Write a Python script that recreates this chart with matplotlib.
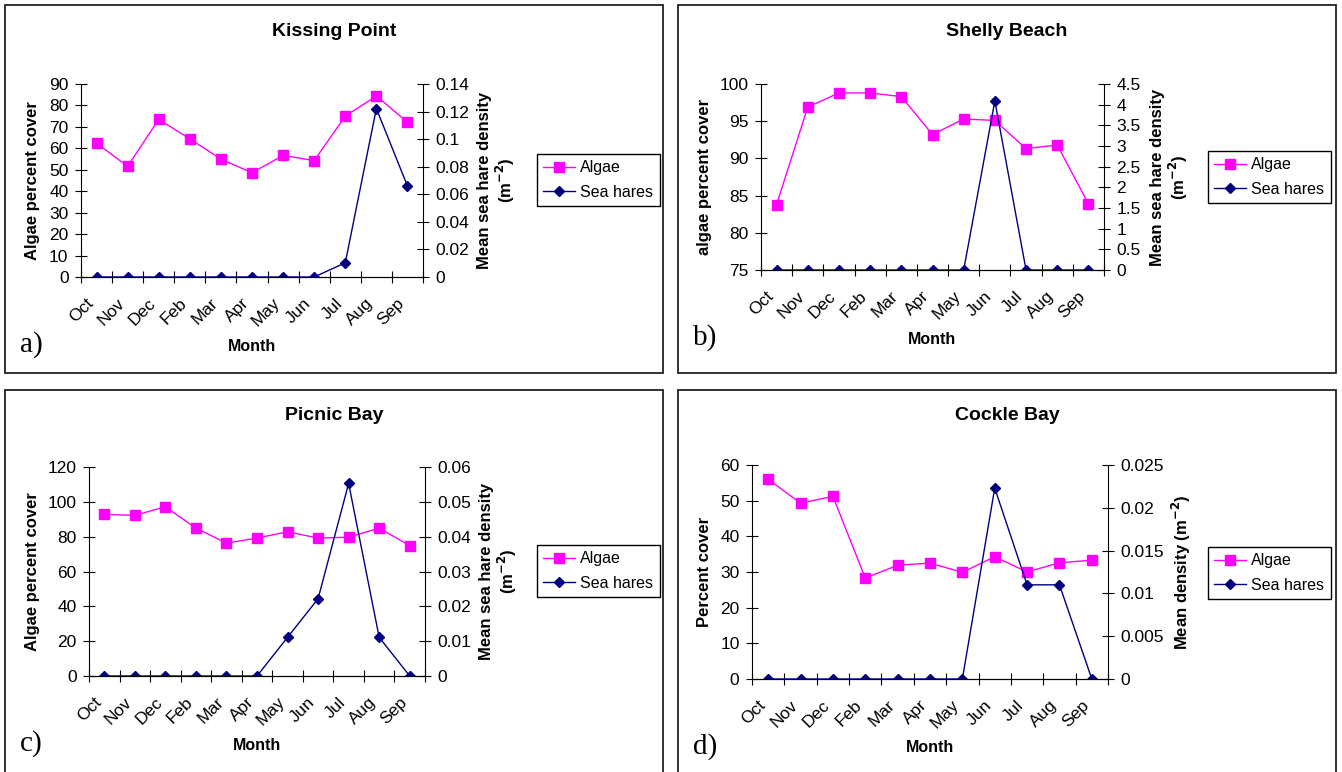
import numpy as np
import matplotlib.pyplot as plt
from matplotlib.patches import Rectangle
from matplotlib.ticker import FuncFormatter, MultipleLocator

plt.rcParams['font.family'] = ['Liberation Sans', 'DejaVu Sans']

W, H = 1342, 772

months = ['Oct', 'Nov', 'Dec', 'Feb', 'Mar', 'Apr', 'May', 'Jun', 'Jul', 'Aug', 'Sep']

# Kissing Point
kp_algae = [62.4, 51.6, 73.5, 64.4, 55.0, 48.6, 56.7, 54.3, 75.0, 84.4, 72.2]
kp_hares = [0, 0, 0, 0, 0, 0, 0, 0, 0.0103, 0.1222, 0.066]
# Shelly Beach
sb_algae = [83.8, 96.9, 98.8, 98.8, 98.3, 93.2, 95.3, 95.1, 91.3, 91.8, 83.9]
sb_hares = [0, 0, 0, 0, 0, 0, 0, 4.09, 0, 0, 0]
# Picnic Bay
pb_algae = [92.8, 92.2, 97.2, 84.9, 76.3, 79.2, 82.8, 79.2, 79.7, 84.9, 74.9]
pb_hares = [0, 0, 0, 0, 0, 0, 0.0111, 0.0222, 0.0553, 0.0111, 0]
# Cockle Bay
cb_algae = [56.0, 49.3, 51.2, 28.3, 31.9, 32.5, 29.9, 34.3, 30.0, 32.6, 33.3]
cb_hares = [0, 0, 0, 0, 0, 0, 0, 0.0223, 0.011, 0.011, 0]

ALGAE_C = '#FF00FF'
HARE_C = '#000080'


def fx(x):
    return x / W


def fy(y):
    return 1 - y / H


def fmt(v, pos):
    return f"{round(v, 6):g}"


fig = plt.figure(figsize=(W / 100, H / 100), dpi=100)


def panel(box, frame, title, title_y, algae, hares, ylim, ystep, y2lim, y2step,
          ylabel, y2label, y2x, ylab_x, letter, legend_xy):
    l, t, r, b = box
    # outer frame
    fl, ft, fr, fb = frame
    fig.patches.append(Rectangle((fx(fl), fy(fb)), fx(fr - fl), (fb - ft) / H,
                                 transform=fig.transFigure, fill=False,
                                 ec='#222222', lw=1.3))
    ax = fig.add_axes([fx(l), fy(b), fx(r - l), (b - t) / H])
    ax2 = ax.twinx()
    x = np.arange(len(months))
    la, = ax.plot(x, algae, color=ALGAE_C, marker='s', ms=6.5, lw=1, label='Algae')
    lh, = ax2.plot(x, hares, color=HARE_C, marker='D', ms=5.5, lw=1, label='Sea hares')

    ax.set_xlim(-0.5, len(months) - 0.5)
    ax.set_ylim(*ylim)
    ax.yaxis.set_major_locator(MultipleLocator(ystep))
    ax.yaxis.set_major_formatter(FuncFormatter(fmt))
    ax2.set_ylim(*y2lim)
    ax2.yaxis.set_major_locator(MultipleLocator(y2step))
    ax2.yaxis.set_major_formatter(FuncFormatter(fmt))

    # category ticks sit between the points, labels at the points
    ax.set_xticks(np.arange(-0.5, len(months)), minor=False)
    ax.set_xticklabels([])
    ax.set_xticks(x, minor=True)
    ax.set_xticklabels(months, minor=True, rotation=45, ha='right',
                       va='bottom', rotation_mode='anchor', fontsize=12.5)
    ax.tick_params(axis='x', which='minor', length=0, pad=21)
    ax.tick_params(axis='x', which='major', direction='inout', length=8)
    ax.tick_params(axis='y', direction='inout', length=8, labelsize=12.5, pad=5)
    ax2.tick_params(axis='y', direction='inout', length=8, labelsize=12.5, pad=5)

    for a in (ax, ax2):
        a.spines['top'].set_visible(False)
        a.patch.set_visible(False)
    ax.spines['right'].set_visible(False)
    ax2.spines['left'].set_visible(False)

    fig.text(fx((fl + fr) / 2), fy(title_y), title, ha='center', va='center',
             fontsize=14, fontweight='bold')
    fig.text(fx(ylab_x), fy((t + b) / 2), ylabel, rotation=90, ha='center',
             va='center', fontsize=12, fontweight='bold')
    fig.text(fx(y2x), fy((t + b) / 2), y2label, rotation=90, ha='center',
             va='center', fontsize=12, fontweight='bold', multialignment='center',
             linespacing=1.1)
    fig.text(fx((l + r) / 2), fy(b + 69), 'Month', ha='center', va='center',
             fontsize=11.5, fontweight='bold')
    fig.text(fx(fl + 15), fy(b + 68), letter, ha='left', va='center',
             fontsize=21, family='Liberation Serif')

    fig.legend([la, lh], ['Algae', 'Sea hares'], loc='upper left',
               bbox_to_anchor=(fx(legend_xy[0]), fy(legend_xy[1])),
               borderaxespad=0, fancybox=False, edgecolor='black', framealpha=1,
               fontsize=11.5, handlelength=2.0, handletextpad=0.3,
               labelspacing=0.6, borderpad=0.4)
    return ax, ax2


hare_lab = 'Mean sea hare density\n(m$^{\\mathbf{-2}}$)'

panel((81, 84, 423, 277), (5, 5, 663, 373), 'Kissing Point', 31,
      kp_algae, kp_hares, (0, 90), 10, (0, 0.14), 0.02,
      'Algae percent cover', hare_lab, 497, 33, 'a)', (537, 154))

panel((761, 84, 1104, 270), (678, 5, 1336, 373), 'Shelly Beach', 31,
      sb_algae, sb_hares, (75, 100), 5, (0, 4.5), 0.5,
      'algae percent cover', hare_lab, 1170, 705, 'b)', (1208, 151))

panel((89, 467, 425, 676), (5, 390, 663, 790), 'Picnic Bay', 416,
      pb_algae, pb_hares, (0, 120), 20, (0, 0.06), 0.01,
      'Algae percent cover', hare_lab, 499, 33, 'c)', (537, 545))

panel((752, 465, 1108, 679), (678, 390, 1336, 790), 'Cockle Bay', 415,
      cb_algae, cb_hares, (0, 60), 10, (0, 0.025), 0.005,
      'Percent cover', 'Mean density (m$^{\\mathbf{-2}}$)', 1181, 705, 'd)', (1208, 547))

fig.savefig('out.png', dpi=100)
